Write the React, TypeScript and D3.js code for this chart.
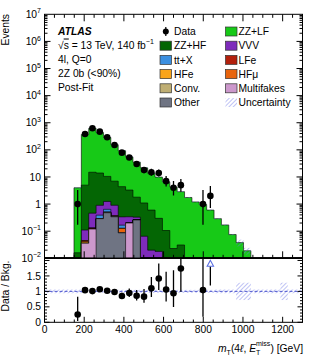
import { useEffect, useRef } from "react";
import * as d3 from "d3";

// 35 bins of 1300/35 GeV each, from 0 to 1300 GeV
const nBins = 35;
const xMaxGeV = 1300;

const zzLF = [0.0005, 0.001, 0.002, 0.004, 3.98, 366, 606, 424, 275.5, 148, 88.6, 51.7, 33.2, 20.6, 13.0, 9.6, 6.49, 4.23, 2.84, 1.75, 1.2, 0.96, 0.6, 0.29, 0.17, 0.075, 0.038, 0.019, 0.006, 0.005, 0.004, 0.003, 0.004, 0.002, 0.001];
const zzHF = [0, 0, 0, 0, 0.016, 4.89, 14.5, 13.1, 9.25, 6.1, 4.06, 2.96, 1.47, 1.035, 0.58, 0.28, 0.1, 0.021, 0.031, 0, 0, 0, 0, 0, 0, 0, 0, 0, 0, 0, 0, 0, 0, 0, 0];
const vvv = [0, 0, 0, 0, 0, 0.065, 0.33, 0.51, 0.61, 0.53, 0.17, 0.14, 0.07, 0.065, 0.02, 0.018, 0.006, 0.002, 0, 0, 0, 0, 0, 0, 0, 0, 0, 0, 0, 0, 0, 0, 0, 0, 0];
const ttX = [0, 0, 0, 0, 0, 0, 0, 0.1, 0.13, 0, 0.04, 0, 0, 0, 0, 0, 0, 0, 0, 0, 0, 0, 0, 0, 0, 0, 0, 0, 0, 0, 0, 0, 0, 0, 0];
const lfe = [0, 0, 0, 0, 0, 0.004, 0.012, 0, 0, 0.03, 0, 0, 0, 0, 0, 0, 0, 0, 0, 0, 0, 0, 0, 0, 0, 0, 0, 0, 0, 0, 0, 0, 0, 0, 0];
const hfe = [0, 0, 0, 0, 0, 0.005, 0, 0, 0.03, 0, 0, 0, 0, 0, 0, 0, 0, 0, 0, 0, 0, 0, 0, 0, 0, 0, 0, 0, 0, 0, 0, 0, 0, 0, 0];
const hfmu = [0, 0, 0, 0, 0, 0, 0, 0, 0, 0, 0.04, 0, 0, 0, 0, 0, 0, 0, 0, 0, 0, 0, 0, 0, 0, 0, 0, 0, 0, 0, 0, 0, 0, 0, 0];
const conv = [0, 0, 0, 0, 0, 0, 0, 0, 0, 0.004, 0, 0, 0, 0, 0, 0, 0, 0, 0, 0, 0, 0, 0, 0, 0, 0, 0, 0, 0, 0, 0, 0, 0, 0, 0];
const multifakes = [0, 0, 0, 0, 0, 0.036, 0.12, 0, 0, 0, 0, 0.2, 0, 0, 0, 0, 0, 0, 0, 0, 0, 0, 0, 0, 0, 0, 0, 0, 0, 0, 0, 0, 0, 0, 0];
const other = [0, 0, 0, 0, 0, 0, 0, 0.29, 0.48, 0.34, 0.087, 0, 0.26, 0, 0, 0, 0, 0, 0, 0, 0, 0, 0, 0, 0, 0, 0, 0, 0, 0, 0, 0, 0, 0, 0];
const dataCounts = [0, 0, 0, 0, 1, 386, 627, 469, 292, 152, 79, 52, 30, 18, 15, 14, 7, 4, 5, 0, 0, 1, 2, 0, 0, 0, 0, 0, 0, 0, 0, 0, 0, 0, 0];
const relUnc = [0.06, 0.06, 0.06, 0.06, 0.06, 0.05, 0.05, 0.05, 0.05, 0.05, 0.05, 0.05, 0.05, 0.05, 0.05, 0.05, 0.05, 0.05, 0.05, 0.05, 0.05, 0.05, 0.05, 0.06, 0.06, 0.06, 0.28, 0.28, 0.06, 0.06, 0.06, 0.06, 0.28, 0.06, 0.06];

const yTickExps = [7, 6, 5, 4, 3, 2, 1, 0, -1, -2];
const xTicks = [0, 200, 400, 600, 800, 1000, 1200];
const ratioTicks = [0, 0.5, 1, 1.5];

// stack order, bottom to top
const samples = [
  { key: "Other", values: other },
  { key: "Multifakes", values: multifakes },
  { key: "Conv.", values: conv },
  { key: "HFμ", values: hfmu },
  { key: "HFe", values: hfe },
  { key: "LFe", values: lfe },
  { key: "tt+X", values: ttX },
  { key: "VVV", values: vvv },
  { key: "ZZ+HF", values: zzHF },
  { key: "ZZ+LF", values: zzLF },
];

const legendLeft = ["Data", "ZZ+HF", "tt+X", "HFe", "Conv.", "Other"];
const legendRight = ["ZZ+LF", "VVV", "LFe", "HFμ", "Multifakes", "Uncertainty"];

const colors: Record<string, string> = {
  "ZZ+LF": "#17c917",
  "ZZ+HF": "#046604",
  VVV: "#7e2bbb",
  "tt+X": "#3b8fe0",
  LFe: "#b3200c",
  HFe: "#f9a41a",
  "HFμ": "#e8640c",
  "Conv.": "#bfae73",
  Multifakes: "#cc98cc",
  Other: "#6f7483",
};

const FONT = "'Liberation Sans', Arial, Helvetica, sans-serif";

// 68% Poisson interval (Wilson-Hilferty approximation of Garwood)
function poissonInterval(n: number): [number, number] {
  const lo = n === 0 ? 0 : n * Math.pow(1 - 1 / (9 * n) - 1 / (3 * Math.sqrt(n)), 3);
  const m = n + 1;
  const hi = m * Math.pow(1 - 1 / (9 * m) + 1 / (3 * Math.sqrt(m)), 3);
  return [lo, hi];
}

export default function App() {
  const ref = useRef<SVGSVGElement>(null);

  useEffect(() => {
    if (!ref.current) return;
    const svg = d3.select(ref.current);
    svg.selectAll("*").remove();

    const L = 44.5, R = 302.5, T = 14.3, M = 258.3, B = 322.3;
    const x = d3.scaleLinear().domain([0, xMaxGeV]).range([L, R]);
    const y = d3.scaleLog().domain([1e-2, 1e7]).range([M, T]).clamp(true);
    const yr = d3.scaleLinear().domain([0, 2.07]).range([B, M]);
    const bw = xMaxGeV / nBins;
    const edges = d3.range(nBins + 1).map((i) => i * bw);

    const rows = d3.range(nBins).map((i) => {
      const o: Record<string, number> = {};
      samples.forEach((s) => (o[s.key] = s.values[i]));
      return o;
    });
    const stacked = d3.stack<Record<string, number>>().keys(samples.map((s) => s.key))(rows);
    const total = rows.map((_, i) => stacked[stacked.length - 1][i][1]);

    const defs = svg.append("defs");
    defs.append("clipPath").attr("id", "clipMain").append("rect")
      .attr("x", L).attr("y", T).attr("width", R - L).attr("height", M - T);
    defs.append("clipPath").attr("id", "clipRatio").append("rect")
      .attr("x", L).attr("y", M).attr("width", R - L).attr("height", B - M);
    const pat = defs.append("pattern").attr("id", "hatch")
      .attr("patternUnits", "userSpaceOnUse").attr("width", 3).attr("height", 3)
      .attr("patternTransform", "rotate(45)");
    pat.append("line").attr("x1", 0).attr("y1", 0).attr("x2", 0).attr("y2", 3)
      .attr("stroke", "#6f78e6").attr("stroke-width", 0.9);

    // ---- main panel
    const gMain = svg.append("g").attr("clip-path", "url(#clipMain)");
    const area = d3.area<[number, number]>()
      .x((p) => x(p[0]))
      .y0(M)
      .y1((p) => y(Math.max(p[1], 1e-4)));

    for (let k = stacked.length - 1; k >= 0; k--) {
      const pts: [number, number][] = [];
      stacked[k].forEach((d, i) => {
        pts.push([edges[i], d[1]]);
        pts.push([edges[i + 1], d[1]]);
      });
      gMain.append("path")
        .attr("d", area(pts) as string)
        .attr("fill", colors[samples[k].key])
        .attr("stroke", "#000")
        .attr("stroke-width", 0.6);
    }

    total.forEach((t, i) => {
      const u = relUnc[i];
      const y1 = y(Math.max(t * (1 + u), 1e-4));
      const y0 = y(Math.max(t * (1 - u), 1e-4));
      gMain.append("rect")
        .attr("x", x(edges[i])).attr("width", x(edges[i + 1]) - x(edges[i]))
        .attr("y", y1).attr("height", Math.max(0, y0 - y1))
        .attr("fill", "url(#hatch)");
    });

    dataCounts.forEach((n, i) => {
      if (n <= 0) return;
      const cx = x((edges[i] + edges[i + 1]) / 2);
      const [lo, hi] = poissonInterval(n);
      gMain.append("line").attr("x1", cx).attr("x2", cx)
        .attr("y1", y(Math.max(lo, 1e-4))).attr("y2", y(hi))
        .attr("stroke", "#000").attr("stroke-width", 1.3);
      gMain.append("circle").attr("cx", cx).attr("cy", y(n)).attr("r", 3.3).attr("fill", "#000");
    });

    // ---- ratio panel
    const gRatio = svg.append("g").attr("clip-path", "url(#clipRatio)");
    total.forEach((t, i) => {
      if (t <= 0) return;
      const u = relUnc[i];
      gRatio.append("rect")
        .attr("x", x(edges[i])).attr("width", x(edges[i + 1]) - x(edges[i]))
        .attr("y", yr(1 + u)).attr("height", yr(1 - u) - yr(1 + u))
        .attr("fill", "url(#hatch)");
    });
    gRatio.append("line").attr("x1", L).attr("x2", R).attr("y1", yr(1)).attr("y2", yr(1))
      .attr("stroke", "#4f58cf").attr("stroke-width", 1).attr("stroke-dasharray", "3,2");

    const rTop = yr.domain()[1];
    dataCounts.forEach((n, i) => {
      if (n <= 0 || total[i] <= 0) return;
      const cx = x((edges[i] + edges[i + 1]) / 2);
      const [lo, hi] = poissonInterval(n);
      const r = n / total[i];
      if (r > rTop) {
        gRatio.append("line").attr("x1", cx).attr("x2", cx)
          .attr("y1", yr(lo / total[i])).attr("y2", M + 8)
          .attr("stroke", "#000").attr("stroke-width", 1.3);
        gRatio.append("path")
          .attr("d", `M${cx},${M + 2}L${cx - 3.2},${M + 8}L${cx + 3.2},${M + 8}Z`)
          .attr("fill", "#fff").attr("stroke", "#5a6ee0").attr("stroke-width", 1.1);
        return;
      }
      gRatio.append("line").attr("x1", cx).attr("x2", cx)
        .attr("y1", yr(lo / total[i])).attr("y2", yr(hi / total[i]))
        .attr("stroke", "#000").attr("stroke-width", 1.3);
      gRatio.append("circle").attr("cx", cx).attr("cy", yr(r)).attr("r", 3.3).attr("fill", "#000");
    });

    // ---- frames and ticks
    const axes = svg.append("g").attr("stroke", "#000").attr("stroke-width", 1).attr("fill", "none");
    axes.append("rect").attr("x", L).attr("y", T).attr("width", R - L).attr("height", M - T);
    axes.append("rect").attr("x", L).attr("y", M).attr("width", R - L).attr("height", B - M);

    const tick = (x1: number, y1: number, x2: number, y2: number) =>
      axes.append("line").attr("x1", x1).attr("y1", y1).attr("x2", x2).attr("y2", y2);

    d3.range(0, xMaxGeV + 1, 50).forEach((v) => {
      const px = x(v);
      const major = v % 200 === 0;
      const lm = major ? 7 : 3.5;
      tick(px, M, px, M - lm);
      tick(px, T, px, T + lm);
      const lr = major ? 5.5 : 2.8;
      tick(px, B, px, B - lr);
    });

    for (let e = -2; e < 7; e++) {
      for (let m = 1; m < 10; m++) {
        const v = m * Math.pow(10, e);
        const py = y(v);
        const len = m === 1 ? 6 : 3;
        tick(L, py, L + len, py);
        tick(R, py, R - len, py);
      }
    }

    d3.range(0, 21).forEach((k) => {
      const v = k / 10;
      const py = yr(v);
      const len = k % 5 === 0 ? 5 : 2.5;
      tick(L, py, L + len, py);
      tick(R, py, R - len, py);
    });

    // ---- labels
    const txt = svg.append("g").attr("font-family", FONT).attr("fill", "#000");

    yTickExps.forEach((e) => {
      const t = txt.append("text").attr("x", 41).attr("y", y(Math.pow(10, e)) + 3.6)
        .attr("text-anchor", "end").attr("font-size", 10.3);
      if (e === 0) t.text("1");
      else if (e === 1) t.text("10");
      else {
        t.append("tspan").text("10");
        t.append("tspan").attr("font-size", 7).attr("dy", -4.5).text(e < 0 ? `\u2212${-e}` : `${e}`);
      }
    });

    ratioTicks.forEach((v) => {
      txt.append("text").attr("x", 41).attr("y", yr(v) + 3.6)
        .attr("text-anchor", "end").attr("font-size", 10.3).text(`${v}`);
    });

    xTicks.forEach((v) => {
      txt.append("text").attr("x", x(v)).attr("y", 333.3)
        .attr("text-anchor", "middle").attr("font-size", 10.3).text(`${v}`);
    });

    txt.append("text").attr("transform", "translate(9.3,14) rotate(-90)")
      .attr("text-anchor", "end").attr("font-size", 10.3).text("Events");
    txt.append("text").attr("transform", "translate(8.5,286) rotate(-90)")
      .attr("text-anchor", "middle").attr("font-size", 10.3).text("Data / Bkg.");

    const xt = txt.append("text").attr("x", 303).attr("y", 351.7)
      .attr("text-anchor", "end").attr("font-size", 10.3);
    xt.append("tspan").attr("font-style", "italic").text("m");
    xt.append("tspan").attr("font-size", 7).attr("dy", 2.8).text("T");
    xt.append("tspan").attr("dy", -2.8).text("(4");
    xt.append("tspan").attr("font-style", "italic").text("\u2113");
    xt.append("tspan").text(", ");
    xt.append("tspan").attr("font-style", "italic").text("E");
    xt.append("tspan").attr("font-size", 7).attr("dy", 3).text("T");
    xt.append("tspan").attr("font-size", 7).attr("dx", -4.3).attr("dy", -8.4).text("miss");
    xt.append("tspan").attr("dy", 5.4).text(") [GeV]");

    // ---- annotation
    const ax = 58;
    txt.append("text").attr("x", ax).attr("y", 34.5).attr("font-size", 10.3)
      .attr("font-weight", "bold").attr("font-style", "italic").text("ATLAS");
    const s = txt.append("text").attr("x", ax).attr("y", 48.5).attr("font-size", 10.3);
    s.append("tspan").text("\u221A");
    s.append("tspan").attr("text-decoration", "overline").text("s");
    s.append("tspan").text(" = 13 TeV, 140 fb");
    s.append("tspan").attr("font-size", 7).attr("dy", -4.5).text("\u22121");
    ["4l, Q=0", "2Z 0b (<90%)", "Post-Fit"].forEach((line, i) => {
      txt.append("text").attr("x", ax).attr("y", 62.5 + i * 14).attr("font-size", 10.3).text(line);
    });

    // ---- legend
    const rowY = (i: number) => 31.5 + i * 14.2;
    const drawEntry = (name: string, bx: number, tx: number, i: number) => {
      const cy = rowY(i);
      if (name === "Data") {
        const cx = bx + 5.8;
        txt.append("line").attr("x1", cx).attr("x2", cx).attr("y1", cy - 4.5).attr("y2", cy + 4.5)
          .attr("stroke", "#000").attr("stroke-width", 1.2);
        txt.append("circle").attr("cx", cx).attr("cy", cy).attr("r", 3).attr("fill", "#000");
      } else if (name === "Uncertainty") {
        txt.append("rect").attr("x", bx).attr("y", cy - 4.5).attr("width", 11.5).attr("height", 9)
          .attr("fill", "url(#hatch)");
      } else {
        txt.append("rect").attr("x", bx).attr("y", cy - 4.5).attr("width", 11.5).attr("height", 9)
          .attr("fill", colors[name]).attr("stroke", "#333").attr("stroke-width", 0.7);
      }
      txt.append("text").attr("x", tx).attr("y", cy + 3.7).attr("font-size", 10.3).text(name);
    };
    legendLeft.forEach((n, i) => drawEntry(n, 160, 174, i));
    legendRight.forEach((n, i) => drawEntry(n, 225.5, 238.5, i));
  }, []);

  return (
    <svg ref={ref} width={319} height={360} style={{ display: "block", position: "absolute", left: 0, top: 0, background: "#fff" }} />
  );
}
